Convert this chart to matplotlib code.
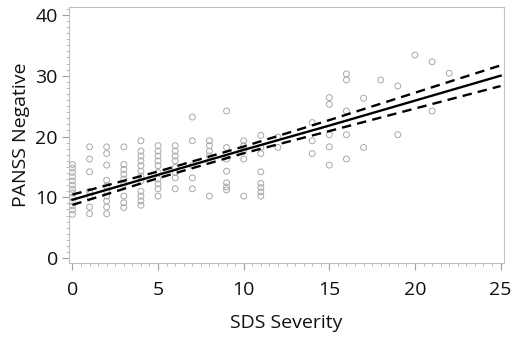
import matplotlib
matplotlib.use("Agg")
import matplotlib.pyplot as plt
from matplotlib.ticker import MultipleLocator

# --- data ---
sds_x = (
    [0] * 13 +
    [1] * 7 +
    [2] * 10 +
    [3] * 9 +
    [4] * 12 +
    [5] * 10 +
    [6] * 8 +
    [7] * 5 +
    [8] * 5 +
    [9] * 7 +
    [10] * 5 +
    [11] * 8 +
    [12] * 2 +
    [14] * 3 +
    [15] * 5 +
    [16] * 5 +
    [17] * 2 +
    [18] * 1 +
    [19] * 2 +
    [20] * 1 +
    [21] * 2 +
    [22] * 1
)
panss_y = (
    [7.2, 7.9, 8.6, 9.3, 10.0, 10.7, 11.3, 12.0, 12.7, 13.4, 14.1, 14.8, 15.4] +
    [18.3, 16.3, 14.2, 11.0, 10.2, 8.4, 7.3] +
    [18.3, 17.2, 15.3, 11.9, 11.0, 10.2, 9.4, 8.4, 7.3, 12.8] +
    [18.3, 15.4, 14.6, 13.8, 13.0, 12.1, 10.2, 9.1, 8.3] +
    [19.3, 17.6, 16.8, 16.0, 15.2, 14.3, 13.5, 12.7, 11.0, 10.2, 9.4, 8.7] +
    [18.5, 17.6, 16.8, 16.0, 15.2, 14.1, 13.0, 12.2, 11.4, 10.2] +
    [18.5, 17.6, 16.8, 16.0, 14.9, 14.1, 13.2, 11.4] +
    [23.2, 19.3, 15.2, 13.2, 11.4] +
    [19.3, 18.5, 17.6, 16.8, 10.2] +
    [24.2, 18.2, 16.3, 14.3, 12.4, 11.7, 11.2] +
    [19.3, 18.5, 17.6, 16.3, 10.2] +
    [20.2, 18.2, 17.2, 14.2, 12.3, 11.6, 10.9, 10.2] +
    [19.9, 18.2] +
    [22.3, 19.3, 17.2] +
    [26.4, 25.3, 20.3, 18.3, 15.3] +
    [30.3, 29.3, 24.2, 20.3, 16.3] +
    [26.3, 18.2] +
    [29.3] +
    [28.3, 20.3] +
    [33.4] +
    [32.3, 24.2] +
    [30.4]
)

# regression fit and 95% confidence limits
fit_x = [0, 5, 10, 15, 20, 25]
fit_y = [9.6, 13.7, 17.8, 21.8, 25.9, 30.0]
fit_lower = [8.75, 13.15, 17.25, 20.9, 24.6, 28.3]
fit_upper = [10.45, 14.25, 18.35, 22.7, 27.2, 31.7]

x_ticks = [0, 5, 10, 15, 20, 25]
y_ticks = [0, 10, 20, 30, 40]

plt.rcParams['font.family'] = ['Open Sans', 'DejaVu Sans']

fig = plt.figure(figsize=(5.12, 3.41), dpi=100)
ax = fig.add_axes([69 / 512, 1 - 263 / 341, (504 - 69) / 512, (263 - 7) / 341])

ax.scatter(sds_x, panss_y, s=18, facecolors='none', edgecolors='#a8a8a8',
           linewidths=0.7, zorder=2)
ax.plot(fit_x, fit_y, color='black', lw=1.7, zorder=3)
ax.plot(fit_x, fit_lower, color='black', lw=1.7, ls=(0, (4, 2.6)), zorder=3)
ax.plot(fit_x, fit_upper, color='black', lw=1.7, ls=(0, (4, 2.6)), zorder=3)

ax.set_xlim(-0.2, 25.2)
ax.set_ylim(-0.8, 41.3)
ax.set_xticks(x_ticks)
ax.set_yticks(y_ticks)
ax.xaxis.set_minor_locator(MultipleLocator(0.5))
ax.yaxis.set_minor_locator(MultipleLocator(1))

for sp in ax.spines.values():
    sp.set_color('#c0c0c0')
    sp.set_linewidth(0.8)

ax.tick_params(axis='both', which='major', direction='out', length=5,
               width=0.8, color='#a0a0a0', labelsize=14, labelcolor='#111111')
ax.tick_params(axis='both', which='minor', direction='out', length=2.5,
               width=0.6, color='#b0b0b0')
ax.tick_params(axis='x', pad=8)
ax.tick_params(axis='y', pad=3)

ax.set_xlabel('SDS Severity', fontsize=14, labelpad=11, color='#111111')
ax.set_ylabel('PANSS Negative', fontsize=14, labelpad=4, color='#111111')

fig.savefig('out.png', dpi=100)
